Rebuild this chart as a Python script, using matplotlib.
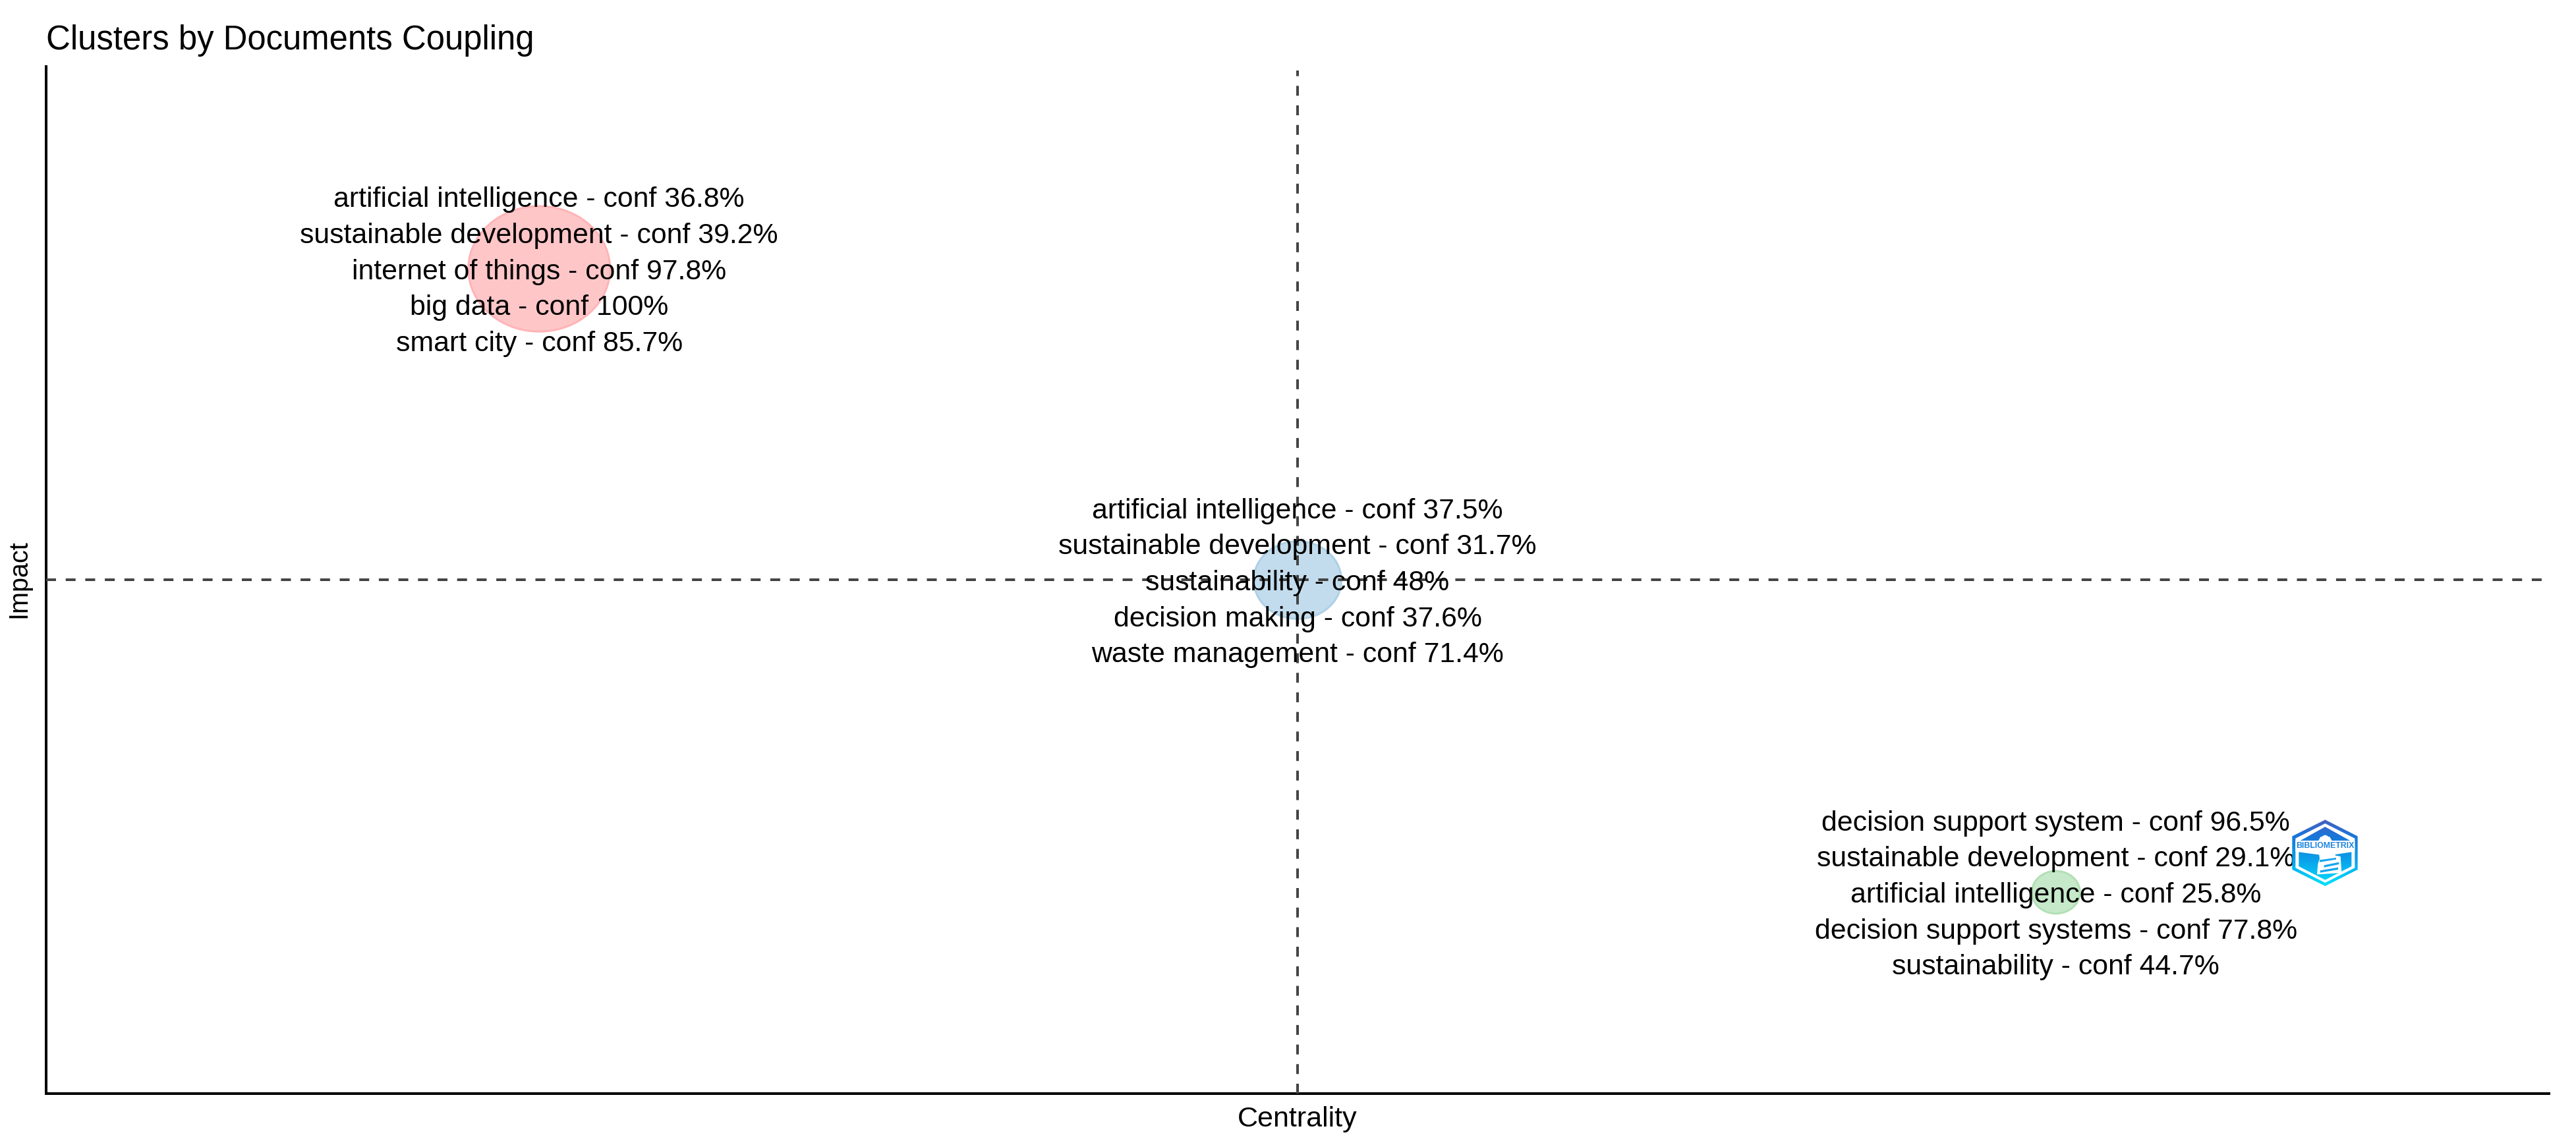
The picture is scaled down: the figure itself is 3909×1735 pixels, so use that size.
import numpy as np
import matplotlib
matplotlib.use("Agg")
import matplotlib.pyplot as plt
from matplotlib.path import Path
from matplotlib.patches import Polygon, Circle
from matplotlib.markers import MarkerStyle

plt.rcParams['font.family'] = ['Liberation Sans', 'DejaVu Sans']

# ---- data ----
centrality = [0.197, 0.5, 0.803]
impact = [0.803, 0.5, 0.196]
bubble_area = [23963, 9170, 2762]
bubble_colors = ['#ffc6c8', '#c2dced', '#c6e9c9']
bubble_edges = ['#ffb4b7', '#aed0e6', '#b2e0b6']
labels_red = ['artificial intelligence - conf 36.8%', 'sustainable development - conf 39.2%',
              'internet of things - conf 97.8%', 'big data - conf 100%', 'smart city - conf 85.7%']
labels_blue = ['artificial intelligence - conf 37.5%', 'sustainable development - conf 31.7%',
               'sustainability - conf 48%', 'decision making - conf 37.6%', 'waste management - conf 71.4%']
labels_green = ['decision support system - conf 96.5%', 'sustainable development - conf 29.1%',
                'artificial intelligence - conf 25.8%', 'decision support systems - conf 77.8%',
                'sustainability - conf 44.7%']
cluster_labels = [labels_red, labels_blue, labels_green]
mean_centrality = 0.5
mean_impact = 0.5

W, H, DPI = 3909, 1735, 100
PX = 72 / DPI
fig = plt.figure(figsize=(W / DPI, H / DPI), dpi=DPI, facecolor='white')
L, R, T, B = 70, 3868, 101, 1660
ax = fig.add_axes([L / W, 1 - B / H, (R - L) / W, (B - T) / H])
ax.set_xlim(0, 1)
ax.set_ylim(0, 1)
for s in ['top', 'right']:
    ax.spines[s].set_visible(False)
for s in ['left', 'bottom']:
    ax.spines[s].set_linewidth(4 * PX)
    ax.spines[s].set_color('black')
ax.set_xticks([])
ax.set_yticks([])

dash = (0, (15 / 4, 14.7 / 4))
ax.axhline(mean_impact, color='#444444', lw=4 * PX, ls=dash, zorder=3, dash_capstyle='butt')
ax.axvline(mean_centrality, ymax=0.996, color='#444444', lw=4 * PX, ls=dash, zorder=3, dash_capstyle='butt')

t = np.linspace(0, 2 * np.pi, 200)
ell = Path(np.column_stack([np.cos(t), 0.885 * np.sin(t)]), closed=True)
ax.scatter(centrality, impact, s=bubble_area, marker=MarkerStyle(ell), c=bubble_colors,
           edgecolors=bubble_edges, linewidths=3 * PX, zorder=2, clip_on=False)

FS = 30.8
for cx, cy, lines in zip(centrality, impact, cluster_labels):
    for i, line in enumerate(lines):
        ax.annotate(line, (cx, cy), xytext=(0, ((2 - i) * 54.7 - 15.5) * PX),
                    textcoords='offset points', ha='center', va='baseline',
                    fontsize=FS, color='black', zorder=4)

ax.set_xlabel('Centrality', fontsize=31, color='black')
ax.xaxis.set_label_coords(0.5, (B - 1699) / (B - T), transform=ax.transAxes)
ax.xaxis.label.set_va('center')
ax.set_ylabel('Impact', fontsize=28.5, color='black', rotation=90)
ax.yaxis.set_label_coords((28 - L) / (R - L), (B - 879) / (B - T), transform=ax.transAxes)
ax.yaxis.label.set_va('center')
ax.set_title('Clusters by Documents Coupling', loc='left', fontsize=36.6, color='black', pad=(T - 75) * PX)

# ---- logo ----
lx, ly, lw_, lh = 3470, 1240, 116, 110
la = fig.add_axes([lx / W, 1 - (ly + lh) / H, lw_ / W, lh / H], zorder=5)
stops = np.array([[0.29, 0.37, 0.75], [0.10, 0.46, 0.85], [0.04, 0.63, 0.92], [0.0, 0.90, 1.0]])
pos = np.linspace(0, 1, 256)
grad = np.stack([np.interp(pos, [0, 0.25, 0.6, 1], stops[:, c]) for c in range(3)], axis=-1)[:, None, :]
outer = [(175, 13), (323, 88), (323, 240), (175, 315), (25, 240), (25, 88)]
inner = [(175, 30), (310, 98), (310, 232), (175, 300), (40, 232), (40, 98)]
im = la.imshow(grad, extent=(0, 348, 320, 10), aspect='auto', zorder=1)
la.set_xlim(0, 348)
la.set_ylim(330, 0)
la.axis('off')
clip = Polygon(outer, closed=True, transform=la.transData, fc='none', ec='none')
la.add_patch(clip)
im.set_clip_path(clip)
la.add_patch(Polygon(inner, closed=True, fc='white', ec='none', zorder=2))
im2 = la.imshow(grad, extent=(0, 348, 320, 10), aspect='auto', zorder=3)
la.set_xlim(0, 348)
la.set_ylim(330, 0)
shape = Polygon([(175, 45), (288, 108), (295, 108), (295, 225), (175, 287), (55, 225), (55, 108), (62, 108)],
                closed=True, transform=la.transData, fc='none', ec='none')
la.add_patch(shape)
im2.set_clip_path(shape)
la.add_patch(Polygon([(40, 108), (310, 108), (310, 158), (295, 160), (215, 172), (145, 172), (55, 160), (40, 158)],
                     closed=True, fc='white', ec='none', zorder=4))
la.add_patch(Circle((175, 100), 17, fc='white', ec='none', zorder=4))
la.add_patch(Polygon([(155, 90), (195, 90), (210, 115), (140, 115)], closed=True, fc='white', ec='none', zorder=4))
la.add_patch(Polygon([(145, 150), (215, 150), (222, 176), (245, 180), (250, 255), (138, 262), (142, 215), (150, 190)],
                     closed=True, fc='white', ec='none', zorder=4))
for pts in ([(150, 196), (225, 186), (225, 194), (150, 206)],
            [(170, 220), (238, 206), (238, 216), (170, 230)],
            [(152, 244), (234, 230), (234, 240), (152, 254)]):
    la.add_patch(Polygon(pts, closed=True, fc='#14a6ee', ec='none', zorder=5))
la.text(175, 133, 'BIBLIOMETRIX', ha='center', va='center', fontsize=8.8, fontweight='bold',
        color='#1b84dd', zorder=6)

fig.savefig('out.png', dpi=DPI, facecolor='white')
